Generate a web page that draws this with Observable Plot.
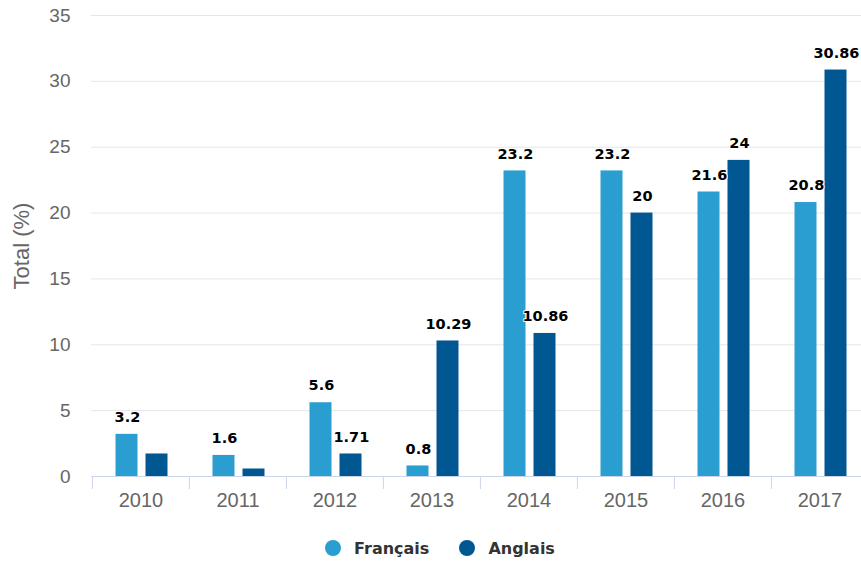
<!DOCTYPE html>
<html>
<head>
<meta charset="utf-8">
<script src="https://cdn.jsdelivr.net/npm/d3@7"></script>
<script src="https://cdn.jsdelivr.net/npm/@observablehq/plot@0.6"></script>
<style>
  html, body { margin: 0; padding: 0; background: #fff; overflow: hidden; }
  #wrap { width: 861px; height: 563px; overflow: hidden; }
  #chart { width: 870px; }
  #chart svg { max-width: none !important; display: block; }
  #legend { display: flex; justify-content: center; align-items: center; width: 870px; height: 40px; margin-left: 5px; margin-top: 8px;
            font-family: "DejaVu Sans", sans-serif; font-weight: bold; font-size: 16px; color: #333; }
  .item { display: flex; align-items: center; margin: 0 15px; }
  .sw { width: 16px; height: 16px; border-radius: 50%; margin-right: 13px; }
</style>
</head>
<body>
<div id="wrap">
  <div id="chart"></div>
  <div id="legend"></div>
</div>
<script>
const years = ["2010", "2011", "2012", "2013", "2014", "2015", "2016", "2017"];
const francais = [3.2, 1.6, 5.6, 0.8, 23.2, 23.2, 21.6, 20.8];
const anglais = [1.71, 0.57, 1.71, 10.29, 10.86, 20, 24, 30.86];
const francaisLabelShown = [true, true, true, true, true, true, true, true];
const anglaisLabelShown = [false, false, true, true, true, true, true, true];
const seriesNames = ["Français", "Anglais"];
const seriesColors = ["#2a9ed0", "#015792"];
const yTicks = [0, 5, 10, 15, 20, 25, 30, 35];

const frRows = years.map((y, i) => ({year: y, value: francais[i], show: francaisLabelShown[i]}));
const anRows = years.map((y, i) => ({year: y, value: anglais[i], show: anglaisLabelShown[i]}));

const labelStyle = {
  x: "year", y: "value", text: d => String(d.value),
  dy: -17, fontWeight: "bold", fontSize: 14.5, fontFamily: "DejaVu Sans, sans-serif",
  fill: "#000", stroke: "#fff", strokeWidth: 2
};

const chart = Plot.plot({
  width: 870,
  height: 520,
  marginTop: 15,
  marginBottom: 44,
  marginLeft: 91,
  marginRight: 1,
  style: {fontFamily: "'Liberation Sans', Arial, sans-serif", fontSize: "19px", color: "#666", background: "#fff", maxWidth: "none"},
  x: {domain: years, padding: 0},
  y: {domain: [0, 35]},
  marks: [
    Plot.gridY(yTicks, {stroke: "#e6e6e6", strokeOpacity: 1}),
    Plot.barY(frRows, {x: "year", y: "value", fill: seriesColors[0], insetLeft: 23.5, insetRight: 51.5}),
    Plot.barY(anRows, {x: "year", y: "value", fill: seriesColors[1], insetLeft: 53.5, insetRight: 21.5}),
    Plot.text(frRows.filter(d => d.show), {...labelStyle, dx: -13.6}),
    Plot.text(anRows.filter(d => d.show), {...labelStyle, dx: 16.4}),
    Plot.ruleY([0], {stroke: "#ccd6eb"}),
    Plot.axisX({fill: "none", tickSize: 13, stroke: "#ccd6eb", dx: -48.6, label: null}),
    Plot.axisX({tickSize: 0, tickPadding: 16, fill: "#666", fontSize: 20, label: null}),
    Plot.axisY(yTicks, {tickSize: 0, tickPadding: 21, fill: "#666", fontSize: 19, label: null}),
    Plot.axisY({ticks: [], label: "Total (%)", labelAnchor: "center", labelArrow: "none", labelOffset: 78, fill: "#666", fontSize: 22})
  ]
});
document.getElementById("chart").appendChild(chart);

const legend = document.getElementById("legend");
seriesNames.forEach((name, i) => {
  const item = document.createElement("div");
  item.className = "item";
  const sw = document.createElement("span");
  sw.className = "sw";
  sw.style.background = seriesColors[i];
  const t = document.createElement("span");
  t.textContent = name;
  item.appendChild(sw);
  item.appendChild(t);
  legend.appendChild(item);
});
</script>
</body>
</html>
